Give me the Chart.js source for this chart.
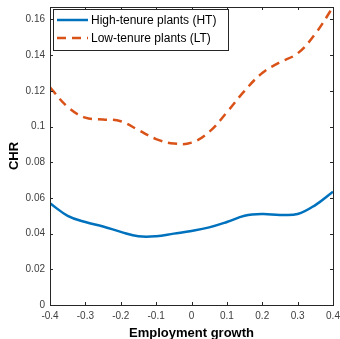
<!DOCTYPE html>
<html>
<head>
<meta charset="utf-8">
<script src="https://cdn.jsdelivr.net/npm/chart.js@4"></script>
<style>
  html, body { margin: 0; padding: 0; background: #fff; }
  #wrap { width: 340px; height: 339px; }
</style>
</head>
<body>
<div id="wrap"><canvas id="chr"></canvas></div>
<script>
// employment growth grid and CHR estimates per group
const growth = [-0.4, -0.35, -0.3, -0.25, -0.2, -0.15, -0.1, -0.05, 0, 0.05, 0.1, 0.15, 0.2, 0.25, 0.3, 0.35, 0.4];
const highTenure = [0.057, 0.050, 0.0465, 0.044, 0.041, 0.0385, 0.0385, 0.040, 0.0415, 0.0435, 0.0465, 0.050, 0.051, 0.0505, 0.051, 0.056, 0.0635];
const lowTenure = [0.122, 0.111, 0.105, 0.104, 0.103, 0.098, 0.093, 0.0905, 0.091, 0.097, 0.108, 0.120, 0.130, 0.136, 0.141, 0.152, 0.167];
const seriesNames = ['High-tenure plants (HT)', 'Low-tenure plants (LT)'];

const BLUE = '#0072BD';
const ORANGE = '#D95319';
const AXIS = '#262626';
const DASH = [9, 6];

function toPoints(xs, ys) {
    return xs.map((x, i) => ({ x: x, y: ys[i] }));
}

// short labels: 0.1 rather than 0.10
function shortLabel(value) {
    return String(+value.toFixed(3));
}

// MATLAB style frame: box around the axes, ticks pointing inward on all sides
const framePlugin = {
    id: 'frame',
    afterDraw(chart) {
        const { ctx, chartArea: a, scales } = chart;
        const len = 3;
        ctx.save();
        ctx.strokeStyle = AXIS;
        ctx.lineWidth = 1;
        ctx.strokeRect(a.left + 0.5, a.top + 0.5, a.right - a.left, a.bottom - a.top);
        ctx.beginPath();
        scales.x.ticks.forEach(t => {
            const px = Math.round(scales.x.getPixelForValue(t.value)) + 0.5;
            ctx.moveTo(px, a.bottom); ctx.lineTo(px, a.bottom - len);
            ctx.moveTo(px, a.top); ctx.lineTo(px, a.top + len);
        });
        scales.y.ticks.forEach(t => {
            const py = Math.round(scales.y.getPixelForValue(t.value)) + 0.5;
            ctx.moveTo(a.left, py); ctx.lineTo(a.left + len, py);
            ctx.moveTo(a.right, py); ctx.lineTo(a.right - len, py);
        });
        ctx.stroke();

        // legend box in the upper left corner
        const bx = a.left + 3, by = a.top + 2, bw = 175, bh = 41;
        ctx.fillStyle = '#fff';
        ctx.fillRect(bx, by, bw, bh);
        ctx.strokeRect(bx + 0.5, by + 0.5, bw, bh);
        const rows = [
            { name: seriesNames[0], color: BLUE, dash: [] },
            { name: seriesNames[1], color: ORANGE, dash: DASH }
        ];
        ctx.font = '12px "Liberation Sans", Arial, sans-serif';
        ctx.textBaseline = 'middle';
        rows.forEach((r, i) => {
            const y = by + 11 + i * 18;
            ctx.strokeStyle = r.color;
            ctx.lineWidth = 2.5;
            ctx.setLineDash(r.dash);
            ctx.beginPath();
            ctx.moveTo(bx + 4, y); ctx.lineTo(bx + 35, y);
            ctx.stroke();
            ctx.setLineDash([]);
            ctx.fillStyle = '#000';
            ctx.fillText(r.name, bx + 38, y + 0.5);
        });
        ctx.restore();
    }
};

const tickFont = { family: '"Liberation Sans", Arial, sans-serif', size: 10 };
const titleFont = { family: '"Liberation Sans", Arial, sans-serif', size: 13, weight: 'bold', lineHeight: 1 };

new Chart(document.getElementById('chr'), {
    type: 'line',
    data: {
        datasets: [
            {
                label: seriesNames[0],
                data: toPoints(growth, highTenure),
                borderColor: BLUE,
                borderWidth: 2.5,
                pointRadius: 0,
                tension: 0.4,
                fill: false
            },
            {
                label: seriesNames[1],
                data: toPoints(growth, lowTenure),
                borderColor: ORANGE,
                borderWidth: 2.5,
                borderDash: DASH,
                pointRadius: 0,
                tension: 0.4,
                fill: false
            }
        ]
    },
    options: {
        responsive: true,
        maintainAspectRatio: false,
        animation: false,
        layout: { padding: { top: 0, right: 0, left: 8, bottom: 0 } },
        plugins: {
            legend: { display: false },
            tooltip: { enabled: false }
        },
        scales: {
            x: {
                type: 'linear',
                min: -0.4,
                max: 0.4,
                grid: { display: false, drawTicks: false },
                border: { display: false },
                ticks: { stepSize: 0.1, color: '#404040', font: tickFont, padding: 5, maxRotation: 0, callback: shortLabel },
                title: { display: true, text: 'Employment growth', color: '#000', font: titleFont, padding: { top: 0, bottom: -1 } },
                afterFit(scale) {
                    scale.height = 34;
                    scale.paddingLeft = 0;
                    scale.paddingRight = 7;
                }
            },
            y: {
                type: 'linear',
                min: 0,
                max: 0.167,
                grid: { display: false, drawTicks: false },
                border: { display: false },
                ticks: { stepSize: 0.02, color: '#404040', font: tickFont, padding: 5, callback: shortLabel },
                title: { display: true, text: 'CHR', color: '#000', font: titleFont, padding: { top: 0, bottom: 0 } },
                afterBuildTicks(scale) {
                    scale.ticks = scale.ticks.filter(t => Math.abs(t.value / 0.02 - Math.round(t.value / 0.02)) < 1e-6);
                },
                afterFit(scale) {
                    scale.width = 42;
                    scale.paddingTop = 7;
                    scale.paddingBottom = 0;
                }
            }
        }
    },
    plugins: [framePlugin]
});
</script>
</body>
</html>
